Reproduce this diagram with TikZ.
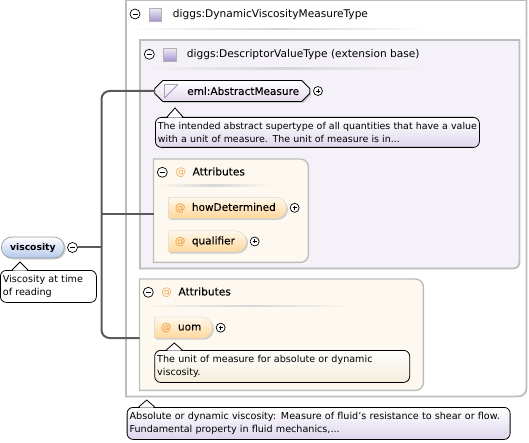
\documentclass[tikz,border=0pt]{standalone}
\usepackage{fontspec}
\setmainfont{DejaVu Sans}
\newfontfamily\labelfont[FakeBold=0.12]{DejaVu Sans}
\usepackage{xcolor}
\usetikzlibrary{positioning,shapes.misc,shadows,calc}
\definecolor{frameg}{HTML}{BDBDBD}
\definecolor{linkg}{HTML}{5A5A5A}
\definecolor{typebg}{HTML}{F4F1F8}
\definecolor{attrbg}{HTML}{FEF9F0}
\definecolor{atsign}{HTML}{F0A850}
\definecolor{lavlow}{HTML}{DDD6EC}
\definecolor{abslow}{HTML}{E6DAEE}
\definecolor{iconlow}{HTML}{A594CE}
\definecolor{iconup}{HTML}{ECE8F6}
\definecolor{bluelow}{HTML}{B4C8EC}
\definecolor{orangelow}{HTML}{FFD79A}
\definecolor{orangeup}{HTML}{FFF8EC}
\definecolor{creamlow}{HTML}{F5EDDC}
\tikzset{
  groupbox/.style={draw=none, inner sep=0pt, anchor=north west},
  framepath/.style={draw=frameg, line width=1.8pt},
  headrule/.style={draw=none, left color=#1, right color=#1, middle color=black!16},
  headtext/.style={font=\fontsize{10.6}{12}\selectfont, anchor=west, inner sep=0pt},
  plainshadow/.style={drop shadow={opacity=.35, shadow xshift=1.5pt, shadow yshift=-1.5pt}},
  elembox/.style={rounded rectangle, draw=black!40, line width=.7pt, top color=white,
    bottom color=bluelow, plainshadow, inner sep=0pt, minimum height=21pt, anchor=west,
    font=\fontsize{9.2}{11}\selectfont\bfseries},
  absbox/.style={chamfered rectangle, chamfered rectangle xsep=4pt, chamfered rectangle ysep=4pt, draw=black, line width=.8pt,
    top color=white, bottom color=abslow, plainshadow, inner sep=0pt, minimum height=21pt,
    anchor=west, font=\fontsize{10.5}{12}\labelfont},
  attrbox/.style={rounded rectangle, rounded rectangle left arc=none, draw=black!15, line width=.5pt,
    top color=orangeup, bottom color=orangelow, plainshadow, inner sep=0pt, align=left,
    minimum height=21pt, anchor=west, font=\fontsize{10.5}{12}\labelfont},
  notebox/.style={rectangle, rounded corners=6pt, draw=black, line width=.8pt, anchor=north west,
    align=left, inner xsep=2.5pt, inner ysep=0pt, font=\fontsize{9.6}{13}\selectfont},
  notewhite/.style={notebox, fill=white},
  notetype/.style={notebox, top color=white, bottom color=lavlow},
  noteattr/.style={notebox, top color=white, bottom color=creamlow},
  sym/.style={circle, draw=black, fill=white, line width=.7pt, minimum size=10pt, inner sep=0pt},
  minussym/.style={sym, path picture={\draw[line width=.7pt] ($(path picture bounding box.center)+(-2.5pt,0)$) -- ($(path picture bounding box.center)+(2.5pt,0)$);}},
  plussym/.style={sym, minimum size=9pt, path picture={\draw[line width=.6pt] ($(path picture bounding box.center)+(-2pt,0)$) -- ($(path picture bounding box.center)+(2pt,0)$)
    ($(path picture bounding box.center)+(0,-2pt)$) -- ($(path picture bounding box.center)+(0,2pt)$);}},
  typeicon/.style={rectangle, draw=black!30, line width=.6pt, minimum size=12.5pt, inner sep=0pt,
    top color=iconup, bottom color=iconlow},
  absicon/.style={rectangle, draw=none, minimum size=13pt, inner sep=0pt},
  link/.style={draw=linkg, line width=2pt, rounded corners=8pt},
  tipline/.style={draw=black, line width=.8pt},
}
\newcommand{\atmark}{\textcolor{atsign}{@}}
\newcommand{\notetip}[3]{%
  \fill[white] (#1-7,#2+.7) -- (#1,#3) -- (#1+7,#2+.7) -- cycle;
  \draw[tipline] (#1-8,#2) -- (#1,#3) -- (#1+8,#2);}

\begin{document}
\begin{tikzpicture}[x=1pt, y=-1pt]
  \useasboundingbox (0,0) rectangle (529,443);

  % outer type frame
  \node[groupbox, minimum width=400pt, minimum height=396pt] (dynBox) at (126,0) {};
  \draw[framepath, fill=white] (dynBox.north west) -- (dynBox.north east)
    [rounded corners=8pt] -- (dynBox.south east) [sharp corners] -- (dynBox.south west) -- cycle;
  \shade[headrule=white] (128,28.5) rectangle (430,30);
  \node[minussym] (dynMinus) at (135,14) {};
  \node[typeicon] (dynIcon) at (155.5,15) {};
  \node[headtext] (dynText) at (172.7,15) {diggs:DynamicViscosityMeasureType};

  % extension base
  \node[groupbox, minimum width=379pt, minimum height=228pt] (baseBox) at (140,40) {};
  \draw[framepath, fill=typebg] (baseBox.north west) -- (baseBox.north east)
    [rounded corners=6pt] -- (baseBox.south east) [sharp corners] -- (baseBox.south west) -- cycle;
  \shade[headrule=typebg] (142,68) rectangle (427,69.5);
  \node[minussym] (baseMinus) at (149.3,54.3) {};
  \node[typeicon] (baseIcon) at (169.7,54.8) {};
  \node[headtext] (baseText) at (186.7,54.3) {diggs:DescriptorValueType (extension base)};

  % first attribute group
  \node[groupbox, minimum width=154.5pt, minimum height=103pt] (attrBoxA) at (153.5,159) {};
  \draw[framepath, line width=1.4pt, fill=attrbg] (attrBoxA.north west)
    [rounded corners=8pt] -- (attrBoxA.north east) -- (attrBoxA.south east) [sharp corners]
    -- (attrBoxA.south west) -- cycle;
  \shade[headrule=attrbg] (155,185) rectangle (272,186.3);
  \node[minussym] (attrMinusA) at (162.3,172.3) {};
  \node[headtext] (attrTextA) at (175.3,172.3) {\atmark\hspace{6.5pt}{\labelfont Attributes}};

  % second attribute group
  \node[groupbox, minimum width=283.5pt, minimum height=111pt] (attrBoxB) at (139.5,279) {};
  \draw[framepath, line width=1.4pt, fill=attrbg] (attrBoxB.north west)
    [rounded corners=8pt] -- (attrBoxB.north east) -- (attrBoxB.south east) [sharp corners]
    -- (attrBoxB.south west) -- cycle;
  \shade[headrule=attrbg] (141,305) rectangle (356,306.3);
  \node[minussym] (attrMinusB) at (148.3,292.3) {};
  \node[headtext] (attrTextB) at (161.2,292.3) {\atmark\hspace{6.5pt}{\labelfont Attributes}};

  % nodes
  \node[elembox, minimum width=63pt] (viscosity) at (1,247.5) {viscosity};
  \node[minussym] (viscMinus) at (72.5,247.5) {};
  \node[notewhite, text width=91pt, minimum height=32pt] (viscNote) at (0,270)
    {Viscosity at time\\of reading};
  \notetip{20}{270}{262}

  \node[absbox, minimum width=155pt] (absMeasure) at (154.3,91) {\hspace{22pt}eml:AbstractMeasure};
  \node[absicon] (absIcon) at (171,91.5) {};
  \draw[black!35, line width=.8pt] (absIcon.south west) -- (absIcon.north west) -- (absIcon.north east);
  \draw[iconlow, line width=.8pt] (absIcon.south west) -- (absIcon.north east);
  \node[plussym, right=3pt of absMeasure] (absPlus) {};
  \node[notetype, text width=319pt, minimum height=30pt, font=\fontsize{9.45}{13}\selectfont] (absNote) at (155,117)
    {\mbox{The intended abstract supertype of all quantities that have a value}\\with a unit of measure. The unit of measure is in...};
  \notetip{175}{117}{108}

  \node[attrbox, minimum width=118pt, text width=104pt] (howDetermined) at (168.3,207.8) {\atmark\hspace{6.5pt}howDetermined};
  \node[plussym, right=3pt of howDetermined] (howPlus) {};
  \node[attrbox, minimum width=78pt, text width=64pt] (qualifier) at (168.3,241.5) {\atmark\hspace{6.5pt}qualifier};
  \node[plussym, right=3pt of qualifier] (qualPlus) {};
  \node[attrbox, minimum width=58pt, text width=44pt] (uom) at (154.3,327.7) {\atmark\hspace{6.5pt}uom};
  \node[plussym, right=3pt of uom] (uomPlus) {};
  \node[noteattr, text width=250pt, minimum height=32pt] (uomNote) at (154.3,350)
    {The unit of measure for absolute or dynamic\\viscosity.};
  \notetip{174.3}{350}{343}

  \node[notetype, text width=378pt, minimum height=32pt] (typeNote) at (126.7,407)
    {Absolute or dynamic viscosity: Measure of fluid's resistance to shear or flow.\\Fundamental property in fluid mechanics,...};
  \notetip{146.7}{407}{400}

  % connectors
  \coordinate (trunkMid) at (101.5,247.5);
  \coordinate (trunkTop) at (101.5,91);
  \coordinate (trunkBot) at (101.5,338);
  \coordinate (trunkAttr) at (101.5,214);
  \coordinate (attrInA) at (153.5,214);
  \coordinate (attrInB) at (139.5,338);
  \draw[link] (viscMinus) -- (trunkMid);
  \draw[link] (absMeasure.west) -- (trunkTop) -- (trunkBot) -- (attrInB);
  \draw[link, line width=1.6pt] (trunkAttr) -- (attrInA);
\end{tikzpicture}
\end{document}
